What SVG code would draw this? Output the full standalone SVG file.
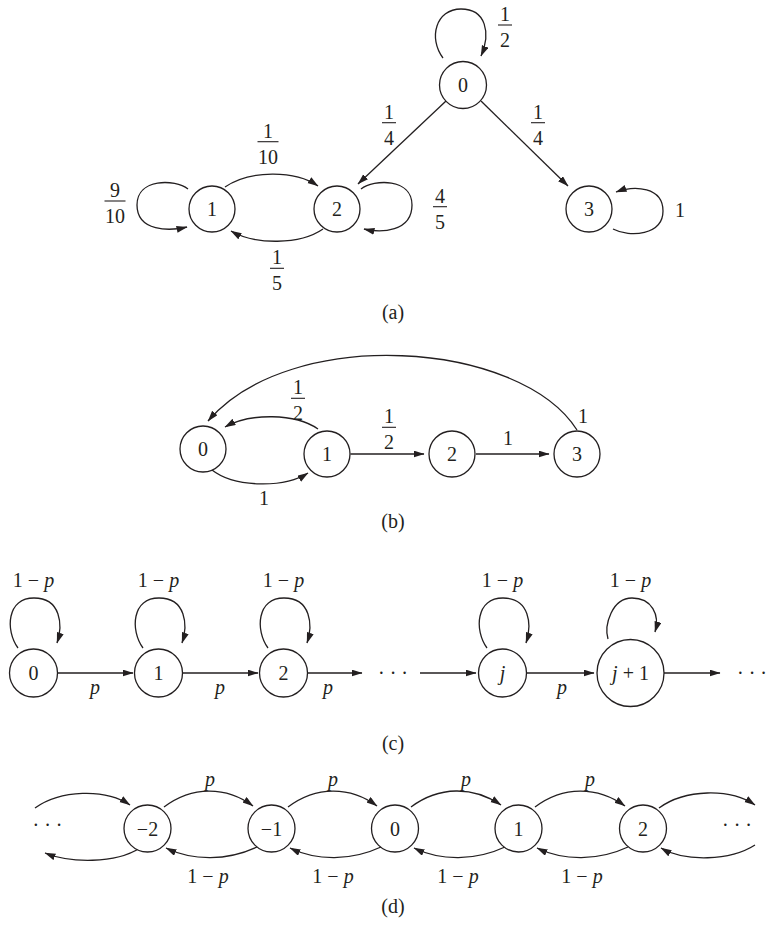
<svg xmlns="http://www.w3.org/2000/svg" width="767" height="925" viewBox="0 0 767 925">
<defs>
<marker id="ah" markerUnits="userSpaceOnUse" markerWidth="11" markerHeight="8" refX="10.5" refY="3.5" orient="auto">
<path d="M0,0 L11,3.5 L0,7 z" fill="#231f20"/>
</marker>
</defs>
<style>
.bg{fill:#fff}
.n{fill:#fff;stroke:#231f20;stroke-width:1.3}
.e{fill:none;stroke:#231f20;stroke-width:1.3;marker-end:url(#ah)}
.t{font-family:"Liberation Serif","Times New Roman",serif;font-size:20px;fill:#231f20;text-anchor:middle}
.i{font-style:italic}
.bar{stroke:#231f20;stroke-width:1.1}
</style>
<rect class="bg" width="767" height="925"/>

<!-- ===== (a) ===== -->
<g id="a-edges">
<path class="e" d="M446,101 L358,184"/>
<path class="e" d="M481,101 L568,186"/>
<path class="e" d="M443,58 C428,38 436,9 461,9 C486,9 491,33 481,56"/>
<path class="e" d="M188,189 C175,179 137,178 137,205 C137,232 170,231 187,227"/>
<path class="e" d="M361,189 C374,179 412,178 412,205 C412,232 381,233 364,229"/>
<path class="e" d="M613,229 C630,238 663,235 663,211 C663,187 635,185 616,192"/>
<path class="e" d="M225,187 C250,170 295,170 318,186"/>
<path class="e" d="M323,229 C300,245 255,245 231,231"/>
</g>
<g id="a-n0"><circle class="n" cx="463" cy="85" r="23.5"/><text class="t" x="463" y="92">0</text></g>
<g id="a-n1"><circle class="n" cx="212" cy="209" r="23"/><text class="t" x="212" y="216">1</text></g>
<g id="a-n2"><circle class="n" cx="337" cy="209" r="23"/><text class="t" x="337" y="216">2</text></g>
<g id="a-n3"><circle class="n" cx="589" cy="209" r="23"/><text class="t" x="589" y="216">3</text></g>
<g id="a-labels">
<text class="t" x="505" y="21">1</text><line class="bar" x1="498" y1="25" x2="512" y2="25"/><text class="t" x="505" y="47">2</text>
<text class="t" x="389" y="118.5">1</text><line class="bar" x1="382" y1="122.7" x2="396" y2="122.7"/><text class="t" x="389" y="144.7">4</text>
<text class="t" x="538" y="118.5">1</text><line class="bar" x1="531" y1="122.7" x2="545" y2="122.7"/><text class="t" x="538" y="144.7">4</text>
<text class="t" x="268" y="137.5">1</text><line class="bar" x1="257.5" y1="141.7" x2="278.5" y2="141.7"/><text class="t" x="268" y="163.7">10</text>
<text class="t" x="115" y="197">9</text><line class="bar" x1="104.5" y1="201" x2="125.5" y2="201"/><text class="t" x="115" y="223">10</text>
<text class="t" x="440" y="202.5">4</text><line class="bar" x1="433" y1="206.7" x2="447" y2="206.7"/><text class="t" x="440" y="228.7">5</text>
<text class="t" x="277" y="264">1</text><line class="bar" x1="270" y1="268.3" x2="284" y2="268.3"/><text class="t" x="277" y="290.3">5</text>
<text class="t" x="680" y="217">1</text>
<text class="t" x="393" y="319">(a)</text>
</g>

<!-- ===== (b) ===== -->
<g id="b-edges">
<path class="e" d="M318,429 C295,413 250,413 225,427"/>
<path class="e" d="M212,470 C235,488 285,488 308,473"/>
<path class="e" d="M350.5,454 L424,454"/>
<path class="e" d="M476,454 L549,454"/>
<path class="e" d="M577,430 C520,340 290,325 208,421"/>
</g>
<g id="b-n0"><circle class="n" cx="203" cy="449" r="23"/><text class="t" x="203" y="456">0</text></g>
<g id="b-n1"><circle class="n" cx="327" cy="454" r="23"/><text class="t" x="327" y="461">1</text></g>
<g id="b-n2"><circle class="n" cx="452" cy="454" r="23"/><text class="t" x="452" y="461">2</text></g>
<g id="b-n3"><circle class="n" cx="577" cy="454" r="23"/><text class="t" x="577" y="461">3</text></g>
<g id="b-labels">
<text class="t" x="298" y="394">1</text><line class="bar" x1="291" y1="398.3" x2="305" y2="398.3"/><text class="t" x="298" y="420">2</text>
<text class="t" x="389" y="423">1</text><line class="bar" x1="382" y1="427.3" x2="396" y2="427.3"/><text class="t" x="389" y="449">2</text>
<text class="t" x="508" y="445">1</text>
<text class="t" x="583" y="423">1</text>
<text class="t" x="264" y="505">1</text>
<text class="t" x="393" y="528">(b)</text>
</g>

<!-- ===== (c) ===== -->
<g id="c-edges">
<path class="e" d="M18,648 C5,630 7,598 34,598 C61,598 63,625 57,643"/>
<path class="e" d="M143,648 C130,630 132,598 159,598 C186,598 188,625 182,643"/>
<path class="e" d="M268,648 C255,630 257,598 284,598 C311,598 313,625 307,643"/>
<path class="e" d="M487,648 C474,630 476,598 503,598 C530,598 532,625 526,643"/>
<path class="e" d="M608,639 C604,625 612,598 632,598 C652,598 660,615 655,632"/>
<path class="e" d="M57.5,673 L133,673"/>
<path class="e" d="M182.5,673 L258,673"/>
<path class="e" d="M307.5,673 L362,673"/>
<path class="e" d="M420,673 L476,673"/>
<path class="e" d="M527,673 L594,673"/>
<path class="e" d="M664,673 L720,673"/>
</g>
<g id="c-n0"><circle class="n" cx="33.5" cy="673" r="24"/><text class="t" x="33.5" y="680">0</text></g>
<g id="c-n1"><circle class="n" cx="158.5" cy="673" r="24"/><text class="t" x="158.5" y="680">1</text></g>
<g id="c-n2"><circle class="n" cx="283.5" cy="673" r="24"/><text class="t" x="283.5" y="680">2</text></g>
<g id="c-nj"><circle class="n" cx="502.5" cy="673" r="24"/><text class="t i" x="502.5" y="680">j</text></g>
<g id="c-nj1"><circle class="n" cx="630.5" cy="673" r="33.5"/><text class="t" x="630.5" y="680"><tspan class="i">j</tspan> + 1</text></g>
<g id="c-labels">
<text class="t" x="33.5" y="587">1 − <tspan class="i">p</tspan></text>
<text class="t" x="158.5" y="587">1 − <tspan class="i">p</tspan></text>
<text class="t" x="283.5" y="587">1 − <tspan class="i">p</tspan></text>
<text class="t" x="502.5" y="587">1 − <tspan class="i">p</tspan></text>
<text class="t" x="630.5" y="587">1 − <tspan class="i">p</tspan></text>
<text class="t i" x="95" y="694">p</text>
<text class="t i" x="220" y="694">p</text>
<text class="t i" x="328" y="694">p</text>
<text class="t i" x="562" y="694">p</text>
<text class="t" x="393" y="680">· · ·</text>
<text class="t" x="737" y="680" style="text-anchor:start">· · ·</text>
<text class="t" x="393" y="750">(c)</text>
</g>

<!-- ===== (d) ===== -->
<g id="d-edges">
<path class="e" d="M35,808 C60,790 105,788 130,805"/>
<path class="e" d="M140,848 C115,864 70,863 45,853"/>
<path class="e" d="M164,807 C192,786 226,786 253,806"/>
<path class="e" d="M288,807 C316,786 350,786 377,806"/>
<path class="e" d="M411,807 C439,786 473,786 501,805"/>
<path class="e" d="M535,807 C563,786 597,786 625,806"/>
<path class="e" d="M659,808 C685,789 730,788 755,805"/>
<path class="e" d="M257,847 C227,861 193,861 166,848"/>
<path class="e" d="M381,847 C351,861 317,861 290,848"/>
<path class="e" d="M505,847 C475,861 441,861 414,848"/>
<path class="e" d="M628,847 C598,861 564,861 537,848"/>
<path class="e" d="M755,845 C730,861 685,862 661,848"/>
</g>
<g id="d-nm2"><circle class="n" cx="147.5" cy="828.5" r="23.5"/><text class="t" x="147.5" y="835.5">−2</text></g>
<g id="d-nm1"><circle class="n" cx="271.5" cy="828.5" r="23.5"/><text class="t" x="271.5" y="835.5">−1</text></g>
<g id="d-n0"><circle class="n" cx="395" cy="828.5" r="23.5"/><text class="t" x="395" y="835.5">0</text></g>
<g id="d-n1"><circle class="n" cx="518.5" cy="828.5" r="23.5"/><text class="t" x="518.5" y="835.5">1</text></g>
<g id="d-n2"><circle class="n" cx="643" cy="828.5" r="23.5"/><text class="t" x="643" y="835.5">2</text></g>
<g id="d-labels">
<text class="t i" x="210" y="786">p</text>
<text class="t i" x="333" y="786">p</text>
<text class="t i" x="466" y="786">p</text>
<text class="t i" x="590" y="786">p</text>
<text class="t" x="208" y="883">1 − <tspan class="i">p</tspan></text>
<text class="t" x="333" y="883">1 − <tspan class="i">p</tspan></text>
<text class="t" x="458" y="883">1 − <tspan class="i">p</tspan></text>
<text class="t" x="582" y="883">1 − <tspan class="i">p</tspan></text>
<text class="t" x="47.5" y="832">· · ·</text>
<text class="t" x="737" y="832">· · ·</text>
<text class="t" x="393" y="913">(d)</text>
</g>
</svg>
